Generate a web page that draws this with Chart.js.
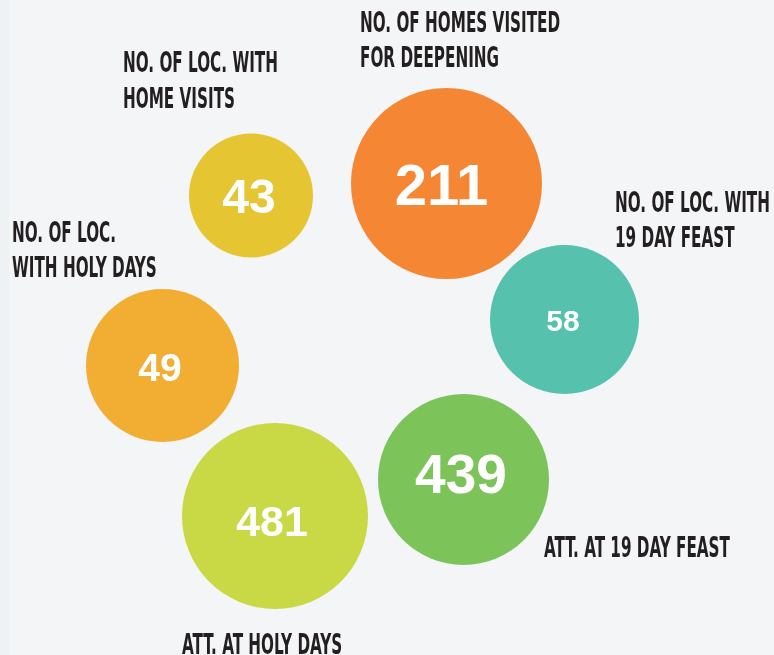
<!DOCTYPE html>
<html>
<head>
<meta charset="utf-8">
<script src="https://cdn.jsdelivr.net/npm/chart.js@4"></script>
<style>
  html, body { margin: 0; padding: 0; background: #F4F5F7; }
  #wrap { width: 774px; height: 655px; position: relative; }
  canvas { display: block; }
</style>
</head>
<body>
<div id="wrap"><canvas id="c" width="774" height="655"></canvas></div>
<script>
// ---- data ----
const categories = [
  "NO. OF LOC. WITH HOME VISITS",
  "NO. OF HOMES VISITED FOR DEEPENING",
  "NO. OF LOC. WITH 19 DAY FEAST",
  "NO. OF LOC. WITH HOLY DAYS",
  "ATT. AT 19 DAY FEAST",
  "ATT. AT HOLY DAYS"
];
const values = [43, 211, 58, 49, 439, 481];

// ---- label line breaks ----
const labelLines = [
  ["NO. OF LOC. WITH", "HOME VISITS"],
  ["NO. OF HOMES VISITED", "FOR DEEPENING"],
  ["NO. OF LOC. WITH", "19 DAY FEAST"],
  ["NO. OF LOC.", "WITH HOLY DAYS"],
  ["ATT. AT 19 DAY FEAST"],
  ["ATT. AT HOLY DAYS"]
];

// ---- layout (pixel positions / sizes, separate from data) ----
const bubbleX = [251, 446.5, 564.5, 162.5, 463.5, 275];
const bubbleY = [195.5, 183.5, 319.5, 365.5, 479.5, 516];
const bubbleR = [62, 95.5, 74.5, 76.5, 85.5, 93];
const numX = [249, 441.5, 563, 160, 461, 272];
const numBase = [213, 205, 331, 381, 493, 536];
const numSize = [48, 58, 30, 39, 55, 43];
const labelX = [123, 360, 615, 12, 544, 182];
const labelBase = [[72, 108], [32, 67], [212, 247], [242, 277], [557], [654]];

// ---- styles ----
const colors = ["#E6C532", "#F58634", "#56C2AE", "#F2AE33", "#7CC35A", "#C9D845"];
const bgColor = "#F4F5F7";
const labelColor = "#231F20";
const labelFont = "bold 29px 'Liberation Sans Narrow', 'DejaVu Sans Condensed', 'Liberation Sans', sans-serif";
const refLabelWidth = 155; // width of "NO. OF LOC. WITH" in reference

const bgPlugin = {
  id: 'bg',
  beforeDraw(chart) {
    const ctx = chart.ctx;
    ctx.save();
    ctx.fillStyle = bgColor;
    ctx.fillRect(0, 0, chart.width, chart.height);
    ctx.fillStyle = "#EEF2F5";
    ctx.fillRect(0, 0, 9, chart.height);
    ctx.restore();
  }
};

const textPlugin = {
  id: 'texts',
  afterDatasetsDraw(chart) {
    const ctx = chart.ctx;
    const meta = chart.getDatasetMeta(0);
    ctx.save();
    // numbers inside bubbles
    ctx.fillStyle = "#FFFFFF";
    ctx.textAlign = "center";
    ctx.textBaseline = "alphabetic";
    meta.data.forEach((el, i) => {
      ctx.font = "bold " + numSize[i] + "px 'Liberation Sans', Arial, sans-serif";
      const dx = numX[i] - bubbleX[i];
      const dy = numBase[i] - bubbleY[i];
      ctx.fillText(String(values[i]), el.x + dx, el.y + dy);
    });
    // category labels
    ctx.font = labelFont;
    ctx.fillStyle = labelColor;
    ctx.textAlign = "left";
    const sx = refLabelWidth / ctx.measureText("NO. OF LOC. WITH").width;
    labelLines.forEach((lines, i) => {
      lines.forEach((line, j) => {
        ctx.save();
        ctx.translate(labelX[i], labelBase[i][j]);
        ctx.scale(sx, 1);
        ctx.fillText(line, 0, 0);
        ctx.restore();
      });
    });
    ctx.restore();
  }
};

new Chart(document.getElementById('c'), {
  type: 'bubble',
  data: {
    labels: categories,
    datasets: [{
      data: values.map((v, i) => ({ x: bubbleX[i], y: bubbleY[i], r: bubbleR[i], v: v })),
      backgroundColor: colors,
      borderWidth: 0,
      hoverBorderWidth: 0,
      hoverRadius: 0,
      clip: false
    }]
  },
  options: {
    responsive: false,
    animation: false,
    layout: { padding: 0, autoPadding: false },
    plugins: { legend: { display: false }, tooltip: { enabled: false } },
    events: [],
    scales: {
      x: { type: 'linear', min: 0, max: 774, display: false },
      y: { type: 'linear', min: 0, max: 655, reverse: true, display: false }
    }
  },
  plugins: [bgPlugin, textPlugin]
});
</script>
</body>
</html>
